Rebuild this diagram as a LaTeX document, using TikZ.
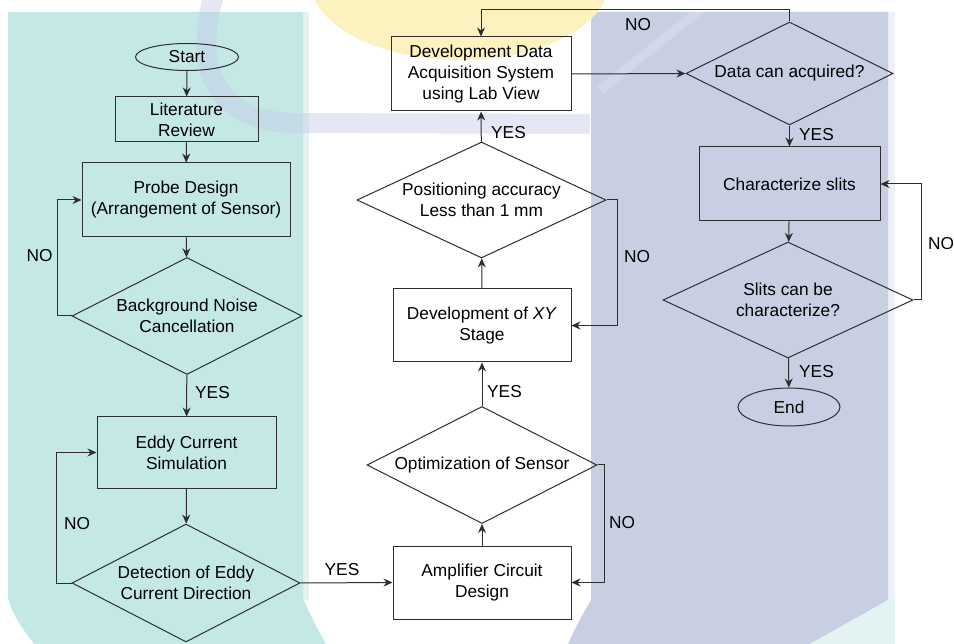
\documentclass[tikz,border=0pt]{standalone}
\usepackage{fontspec}
\setmainfont{Liberation Sans}
\usetikzlibrary{shapes.geometric,arrows.meta}
\definecolor{tealbg}{HTML}{C4E8E5}
\definecolor{tealpale}{HTML}{E2F3F2}
\definecolor{lavbg}{HTML}{C9CFE3}
\definecolor{lavpale}{HTML}{EEF0F7}
\definecolor{lavband}{HTML}{C6CBE8}
\definecolor{yel}{HTML}{FBF2C0}
\definecolor{ln}{HTML}{2E2E2E}
\begin{document}
\begin{tikzpicture}[x=1pt,y=-1pt,
  font=\fontsize{17.3}{21}\selectfont,
  box/.style={draw=ln, line width=1pt, inner sep=0pt, align=center},
  dia/.style={draw=ln, line width=1pt, diamond, inner sep=0pt},
  oval/.style={draw=ln, line width=1pt, ellipse, inner sep=0pt},
  txt/.style={align=center, inner sep=0pt},
  lbl/.style={inner sep=0pt},
  arr/.style={draw=ln, line width=1pt, -{Stealth[length=9pt,width=8pt]}}]
\useasboundingbox (0,0) rectangle (954,644);
\begin{scope}
\clip (0,0) rectangle (954,644);
\fill[white] (0,0) rectangle (954,644);
% panels
\fill[tealpale] (303,12) rectangle (309,600);
\fill[tealbg] (8,12) -- (303,12) -- (303,598) .. controls (310,615) and (318,630) .. (326,644)
  -- (34,644) .. controls (22,628) and (12,614) .. (8,598) -- cycle;
\fill[lavpale] (888,12) rectangle (895,600);
\fill[lavbg] (591,12) -- (888,12) -- (888,600) .. controls (862,615) and (835,630) .. (810,644)
  -- (568,644) .. controls (576,626) and (585,610) .. (591,600) -- cycle;
\fill[tealpale] (895,600) -- (895,644) -- (810,644) .. controls (835,630) and (862,615) .. (888,600) -- cycle;
% watermark
\fill[yel] (460,-20) ellipse [x radius=150, y radius=80];
\draw[lavband, line width=20pt, opacity=0.45] (214,-5) .. controls (196,55) and (205,118) .. (290,123) -- (590,124);
\draw[white, line width=9pt, opacity=0.2] (715,-2) -- (600,90);
\end{scope}
% ---- left column
\node[oval, minimum width=103pt, minimum height=27pt] (start) at (187,57) {Start};
\node[box, minimum width=143pt, minimum height=45pt] (lit) at (186.5,119.5) {Literature\\Review};
\node[box, minimum width=208pt, minimum height=74pt] (probe) at (186,200) {Probe Design\\(Arrangement of Sensor)};
\node[dia, minimum width=230pt, minimum height=117pt] (bg) at (187,316) {};
\node[txt] (bgt) at (bg) {Background Noise\\Cancellation};
\node[box, minimum width=179pt, minimum height=71pt] (eddy) at (186.5,452.5) {Eddy Current\\Simulation};
\node[dia, minimum width=228pt, minimum height=118pt] (det) at (186,583) {};
\node[txt] (dett) at (det) {Detection of Eddy\\Current Direction};
% ---- middle column
\node[box, minimum width=180pt, minimum height=74pt] (daq) at (481,74) {Development Data\\Acquisition System\\using Lab View};
\node[dia, minimum width=249pt, minimum height=116pt] (pos) at (481.5,200) {};
\node[txt] (post) at (pos) {Positioning accuracy\\Less than 1 mm};
\node[box, minimum width=178pt, minimum height=73pt] (xy) at (482,325.5) {Development of \textit{XY}\\Stage};
\node[dia, minimum width=230pt, minimum height=117pt] (opt) at (482,465) {};
\node[txt] (optt) at (opt) {Optimization of Sensor};
\node[box, minimum width=178pt, minimum height=73pt] (amp) at (482,582.5) {Amplifier Circuit\\Design};
% ---- right column
\node[dia, minimum width=207pt, minimum height=103pt] (dca) at (789.5,73.5) {};
\node[txt] (dcat) at (dca) {Data can acquired?};
\node[box, minimum width=181pt, minimum height=74pt] (cs) at (789.5,184) {Characterize slits};
\node[dia, minimum width=250pt, minimum height=116pt] (sl) at (788,300) {};
\node[txt] (slt) at (sl) {Slits can be\\characterize?};
\node[oval, minimum width=102pt, minimum height=38pt] (end) at (789,407) {End};
% ---- connectors
\draw[arr] (start) -- (lit);
\draw[arr] (lit) -- (probe);
\draw[arr] (probe) -- (bg);
\draw[arr] (bg) -- (eddy);
\draw[arr] (bg.west) -- ++(-14,0) |- (probe.west);
\draw[arr] (eddy) -- (det);
\draw[arr] (det.west) -- ++(-15,0) |- (eddy.west);
\draw[arr] (det.east) -- (amp.west);
\draw[arr] (amp) -- (opt);
\draw[arr] (opt) -- (xy);
\draw[arr] (opt.east) -- ++(7,0) |- (amp.east);
\draw[arr] (xy) -- (pos);
\draw[arr] (pos.east) -- ++(11,0) |- (xy.east);
\draw[arr] (pos) -- (daq);
\draw[arr] (daq.east) -- (dca.west);
\draw[arr] (dca.north) -- ++(0,-12) -| (daq.north);
\draw[arr] (dca) -- (cs);
\draw[arr] (cs) -- (sl);
\draw[arr] (sl.east) -- ++(8,0) |- (cs.east);
\draw[arr] (sl) -- (end);
% ---- labels
\node[lbl, anchor=west] (y1) at (195,393) {YES};
\node[lbl] (n1) at (39.5,256) {NO};
\node[lbl] (n2) at (77,524) {NO};
\node[lbl] (y2) at (342,570) {YES};
\node[lbl, anchor=west] (y3) at (487,392) {YES};
\node[lbl] (n3) at (622,523) {NO};
\node[lbl] (n4) at (637,257) {NO};
\node[lbl, anchor=west] (y4) at (491,133) {YES};
\node[lbl] (n5) at (638,25) {NO};
\node[lbl, anchor=west] (y5) at (799,135) {YES};
\node[lbl] (n6) at (941,244) {NO};
\node[lbl, anchor=west] (y6) at (799,372) {YES};
\end{tikzpicture}
\end{document}
